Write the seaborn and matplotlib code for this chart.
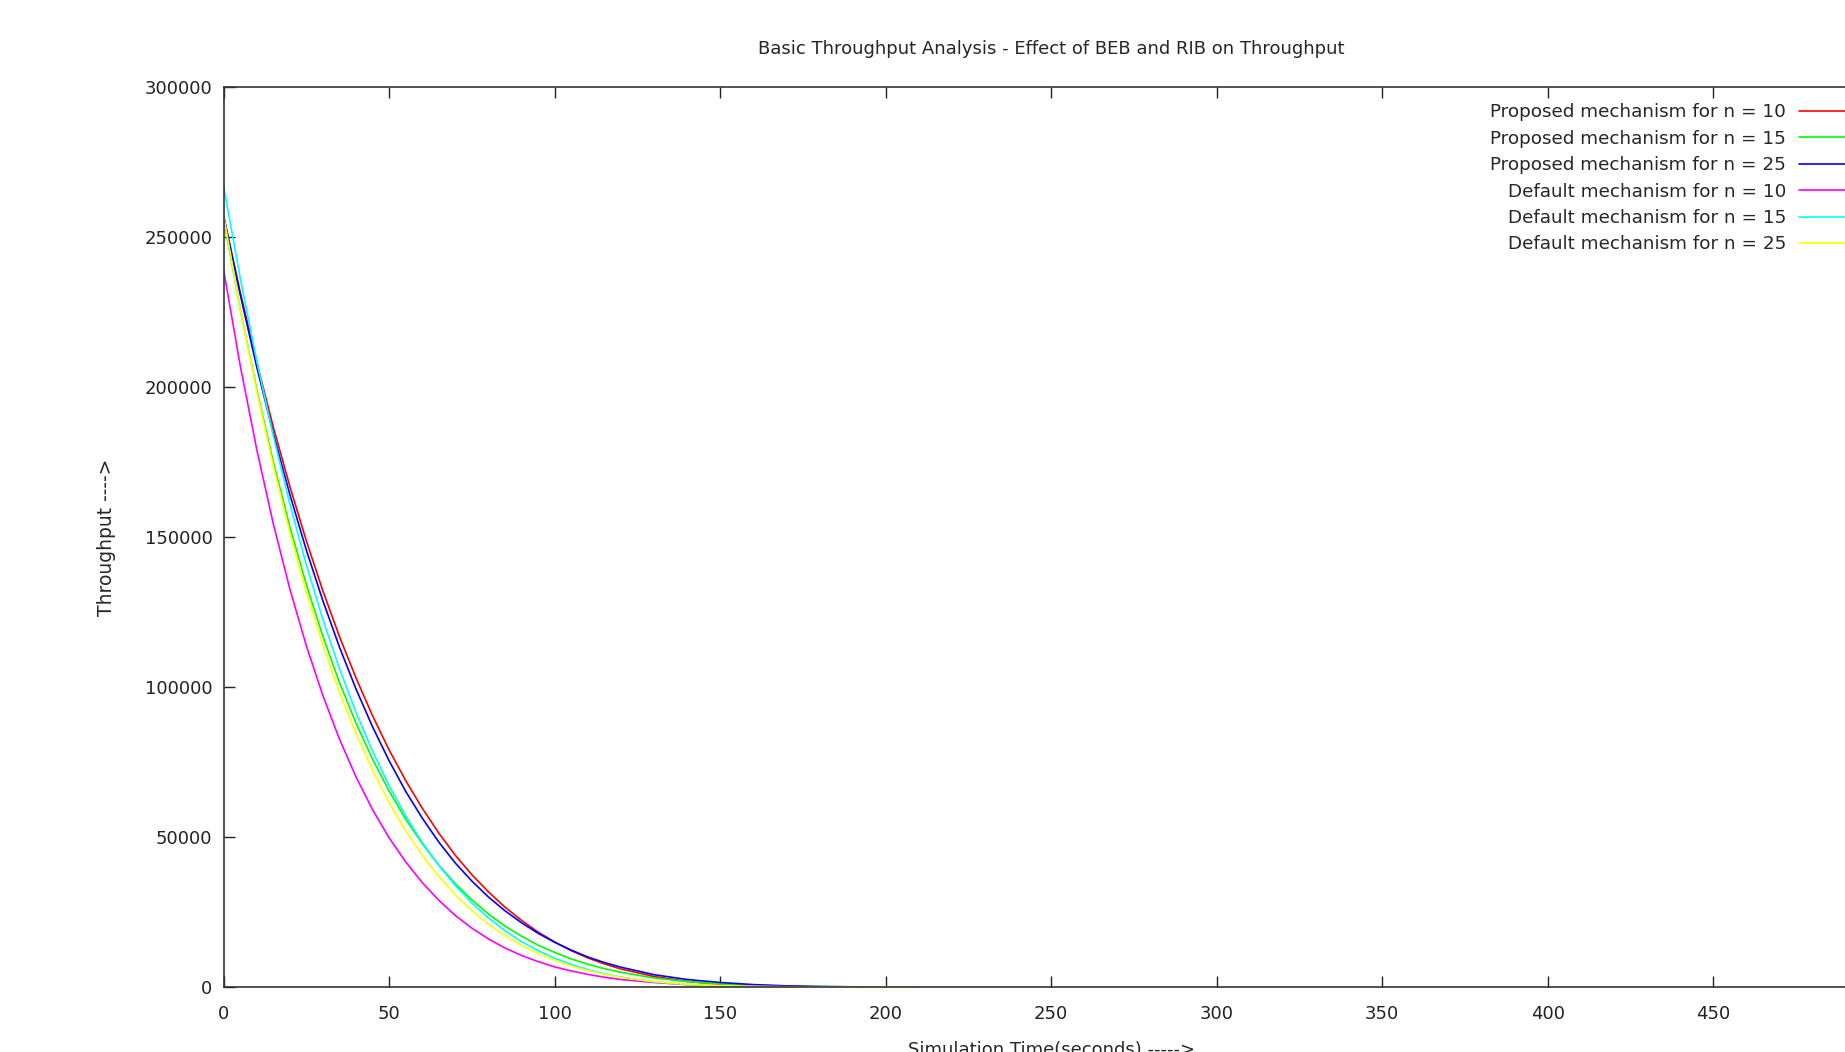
import matplotlib
matplotlib.use("Agg")
import matplotlib.pyplot as plt
import seaborn as sns

# simulation time (s) and throughput of each run
time = [0, 5, 10, 15, 20, 25, 30, 35, 40, 45, 50, 55, 60, 65, 70, 75, 80, 85,
        90, 95, 100, 105, 110, 115, 120, 130, 140, 150, 160, 170, 180, 190,
        200, 210]

proposed_n10 = [257000, 231700, 208300, 186700, 166900, 148700, 132000, 116800,
                103000, 90400, 79000, 68800, 59600, 51300, 43900, 37400, 31700,
                26600, 22200, 18300, 15000, 12100, 9700, 7700, 6000, 3500, 1850,
                870, 350, 110, 20, 0, 0, 0]
proposed_n15 = [256000, 226100, 199200, 175000, 153400, 134100, 116800, 101500,
                87900, 75900, 65300, 55900, 47800, 40600, 34400, 29000, 24300,
                20300, 16900, 13900, 11500, 9350, 7600, 6100, 4900, 3000, 1800,
                1000, 570, 290, 140, 60, 20, 0]
proposed_n25 = [257000, 230900, 206700, 184500, 164200, 145600, 128700, 113300,
                99300, 86700, 75400, 65200, 56300, 48300, 41300, 35300, 30000,
                25400, 21400, 17900, 14900, 12300, 10000, 8150, 6600, 4100, 2500,
                1500, 800, 380, 150, 50, 10, 0]
default_n10 = [239000, 207200, 179200, 154400, 132700, 113700, 97100, 82600,
               70000, 59100, 49700, 41700, 34800, 28900, 23800, 19600, 16000,
               13000, 10500, 8450, 6700, 5350, 4200, 3250, 2500, 1500, 800, 430,
               210, 100, 40, 15, 5, 0]
default_n15 = [267000, 236400, 208700, 183700, 161000, 140700, 122400, 106100,
               91500, 78600, 67100, 57000, 48200, 40500, 33800, 28000, 23000,
               18750, 15100, 12100, 9600, 7500, 5800, 4400, 3300, 1700, 830, 340,
               120, 30, 5, 0, 0, 0]
default_n25 = [257000, 226200, 198500, 173700, 151400, 131600, 113900, 98200,
               84400, 72200, 61400, 52100, 43900, 36800, 30700, 25400, 20900,
               17100, 13900, 11150, 8900, 7000, 5500, 4250, 3200, 1800, 940, 450,
               190, 70, 20, 5, 0, 0]

series = [proposed_n10, proposed_n15, proposed_n25, default_n10, default_n15, default_n25]
labels = ["Proposed mechanism for n = 10", "Proposed mechanism for n = 15",
          "Proposed mechanism for n = 25", "Default mechanism for n = 10",
          "Default mechanism for n = 15", "Default mechanism for n = 25"]
colors = ["#ff0000", "#00ff00", "#0000ff", "#ff00ff", "#00ffff", "#ffff00"]

sns.set_style("ticks")
plt.rcParams["font.family"] = "DejaVu Sans"

fig = plt.figure(figsize=(18.45, 10.52), dpi=100)
ax = fig.add_axes([0.1212, 0.0618, 0.8971, 0.8555])

for values, label, color in zip(series, labels, colors):
    sns.lineplot(x=time, y=values, color=color, label=label, linewidth=1.2, ax=ax)

ax.set_xlim(0, 500)
ax.set_ylim(0, 300000)
ax.set_xticks(range(0, 451, 50))
ax.set_yticks(range(0, 300001, 50000))
ax.ticklabel_format(style="plain", useOffset=False)
ax.tick_params(direction="in", top=True, right=True, length=8, width=1,
               labelsize=13, colors="#222222")
ax.tick_params(axis="x", pad=13)
ax.tick_params(axis="y", pad=8)
for s in ax.spines.values():
    s.set_color("#333333")
    s.set_linewidth(1.2)

ax.set_title("Basic Throughput Analysis - Effect of BEB and RIB on Throughput",
             fontsize=13, pad=24)
ax.set_xlabel("Simulation Time(seconds) ----->", fontsize=13)
ax.set_ylabel("Throughput ---->", fontsize=13.5)
ax.xaxis.set_label_coords(0.5, -0.0595)
ax.yaxis.set_label_coords(-0.0652, 0.5)

ax.legend(loc="upper right", bbox_to_anchor=(0.9898, 0.982), frameon=False,
          markerfirst=False, handlelength=3.43, handletextpad=0.7,
          labelspacing=0.46, borderpad=0, borderaxespad=0, fontsize=13.2)

fig.savefig("out.png", dpi=100)
